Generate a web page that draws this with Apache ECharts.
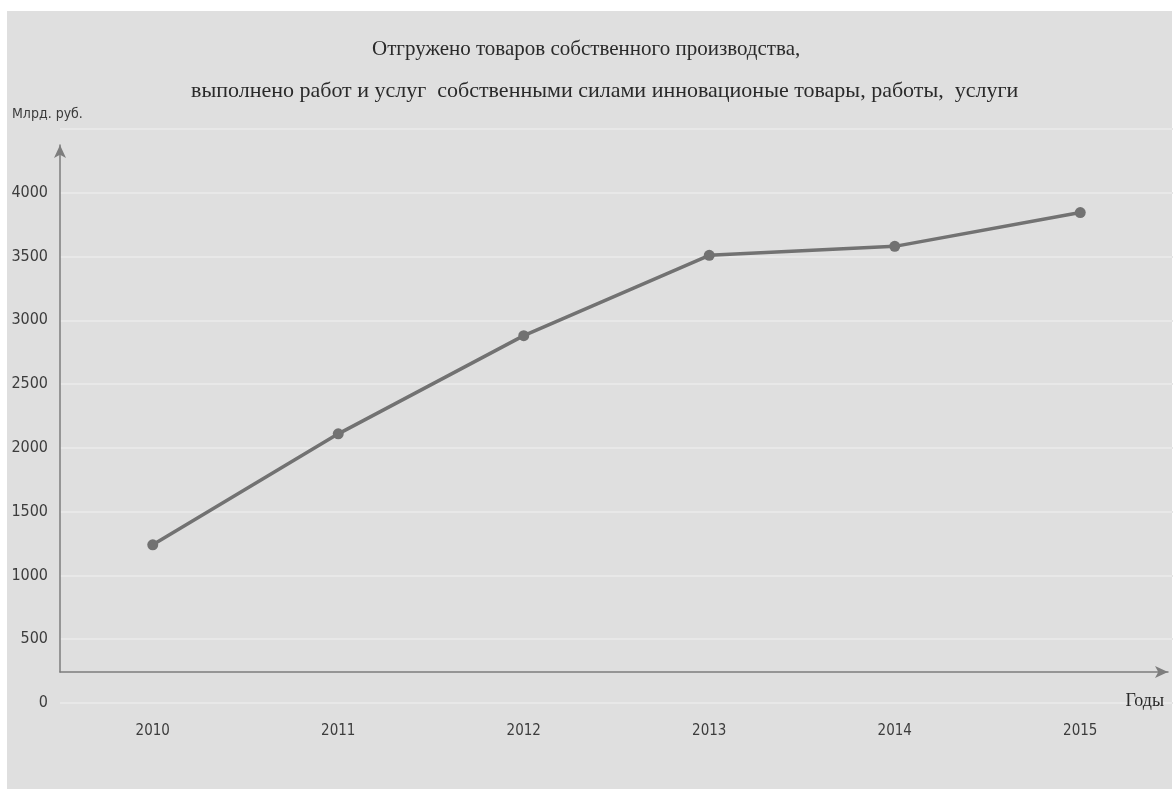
<!DOCTYPE html>
<html><head><meta charset="utf-8">
<script src="https://cdn.jsdelivr.net/npm/echarts@6/dist/echarts.min.js"></script>
<style>
html,body{margin:0;padding:0;background:#fff;}
#bg{position:absolute;left:7px;top:11px;width:1165px;height:778px;background:#dfdfdf;}
#main{position:absolute;left:0;top:0;width:1174px;height:789px;}
</style></head>
<body><div id="bg"></div><div id="main"></div>
<script>
const years = ['2010','2011','2012','2013','2014','2015'];
const values = [1240, 2110, 2880, 3510, 3580, 3845];
const yTicks = [0, 500, 1000, 1500, 2000, 2500, 3000, 3500, 4000, 4500];
const titleLine1 = 'Отгружено товаров собственного производства,';
const titleLine2 = 'выполнено работ и услуг  собственными силами инновационые товары, работы,  услуги';
const yName = 'Млрд. руб.';
const xName = 'Годы';

const chart = echarts.init(document.getElementById('main'), null, {renderer:'canvas'});
const txt = '#3c3c3c';
const narrow = '"Liberation Sans Narrow", "DejaVu Sans Condensed", sans-serif';
const titleStyle = {fontFamily:'Liberation Serif', fontWeight:'normal', fontSize:22, color:'#2a2a2a'};
chart.setOption({
  animation:false,
  backgroundColor:'transparent',
  title:[
    {text:titleLine1, left:367, top:34, textStyle:Object.assign({}, titleStyle, {fontSize:21})},
    {text:titleLine2, left:186, top:75, textStyle:titleStyle}
  ],
  graphic:[
    {type:'text', left:12, top:107, z:100, style:{text:yName, font:'14px ' + narrow, fill:txt}},
    {type:'text', right:10, top:692, z:100, style:{text:xName, font:'18px "Liberation Serif", serif', fill:'#2a2a2a'}}
  ],
  grid:[
    {left:60, right:1, top:129, bottom:86},
    {left:60, right:6, top:145, bottom:117}
  ],
  xAxis:[
    {type:'category', data:years, gridIndex:0, boundaryGap:true,
     axisLine:{show:false}, axisTick:{show:false},
     axisLabel:{color:txt, fontSize:15, margin:21, fontFamily:narrow},
     splitLine:{show:false}},
    {type:'value', gridIndex:1, min:0, max:1, axisLabel:{show:false}, axisTick:{show:false}, splitLine:{show:false},
     axisLine:{show:true, symbol:['none','arrow'], symbolSize:[9,13], lineStyle:{color:'#7d7d7d', width:1.5}}}
  ],
  yAxis:[
    {type:'value', gridIndex:0, min:yTicks[0], max:yTicks[yTicks.length-1], interval:yTicks[1]-yTicks[0],
     axisLine:{show:false}, axisTick:{show:false},
     axisLabel:{color:txt, fontSize:16, margin:12, fontFamily:narrow,
       formatter:v => v === yTicks[yTicks.length-1] ? '' : String(v)},
     splitLine:{show:true, lineStyle:{color:'#e8e8e8', width:2}}},
    {type:'value', gridIndex:1, min:0, max:1, axisLabel:{show:false}, axisTick:{show:false}, splitLine:{show:false},
     axisLine:{show:true, symbol:['none','arrow'], symbolSize:[9,13], lineStyle:{color:'#7d7d7d', width:1.5}}}
  ],
  series:[{type:'line', xAxisIndex:0, yAxisIndex:0, data:values,
    symbol:'circle', symbolSize:11,
    lineStyle:{color:'#727272', width:3.5}, itemStyle:{color:'#727272'}}]
});
</script></body></html>
